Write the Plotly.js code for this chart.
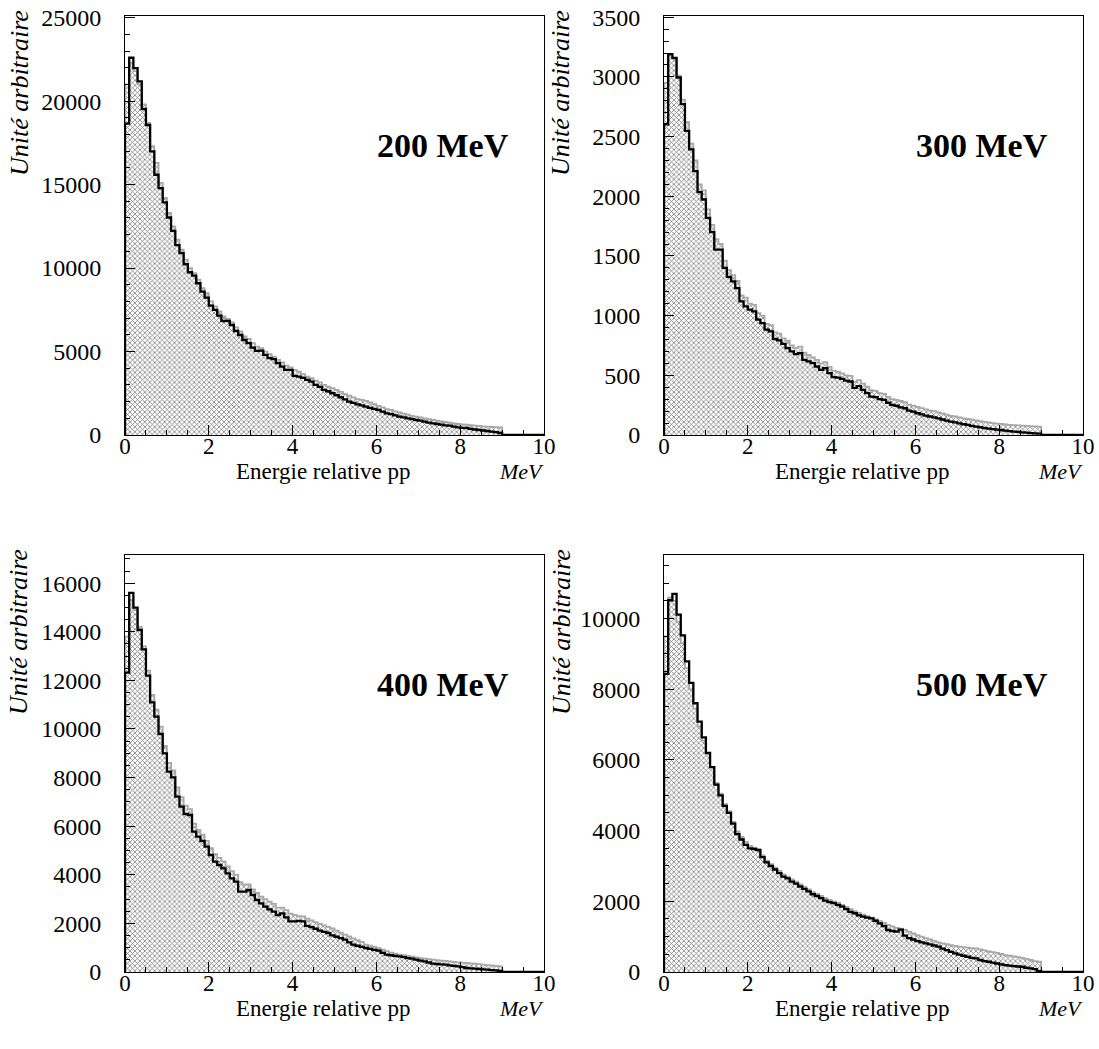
<!DOCTYPE html>
<html>
<head>
<meta charset="utf-8">
<script src="https://cdn.plot.ly/plotly-3.0.1.min.js"></script>
<style>html,body{margin:0;padding:0;background:#fff}#chart{width:1099px;height:1049px}</style>
</head>
<body>
<div id="chart"></div>
<script>
// Histogram bins: 0.1 MeV wide, from 0 to 9 MeV (90 bins), axis 0..10 MeV
const binWidth = 0.1;
const panelLabels = ["200 MeV", "300 MeV", "400 MeV", "500 MeV"];
const xTitle = "Energie relative pp";
const xUnit = "MeV";
const yTitle = "Unité arbitraire";

// 200 MeV
const black200 = [18650,22600,21980,21180,19530,18570,16990,15590,14790,13930,
13030,12230,11370,10890,10230,9750,9550,9090,8590,8230,
7750,7490,7150,6830,6830,6590,6230,5990,5690,5500,
5230,5040,5050,4800,4600,4540,4300,4100,3900,3900,
3540,3500,3420,3300,3200,3000,2880,2700,2620,2500,
2380,2260,2140,2000,1920,1840,1780,1700,1620,1560,
1500,1400,1300,1250,1180,1100,1050,1000,950,900,
860,800,740,700,660,620,580,560,500,460,
430,420,370,330,300,270,240,200,170,120];
const gray200 = [21000,22300,21800,21000,19800,18700,17300,16300,15100,14200,
13300,12500,11700,11100,10500,10000,9700,9300,8800,8500,
8000,7700,7400,7100,6950,6750,6450,6200,5900,5750,
5500,5300,5200,5000,4850,4700,4500,4350,4150,4050,
3900,3800,3650,3500,3400,3250,3150,3000,2900,2800,
2700,2580,2450,2350,2250,2150,2100,2050,1950,1850,
1750,1650,1550,1500,1420,1350,1280,1220,1150,1100,
1050,1000,950,900,860,820,780,740,700,660,
640,620,590,560,540,520,500,480,470,450];

// 300 MeV
const black300 = [2603,3190,3160,2995,2771,2547,2393,2211,2035,1973,
1819,1699,1553,1553,1400,1324,1287,1231,1119,1077,
1050,1036,966,938,882,868,804,793,764,728,
700,678,686,630,616,602,574,546,560,518,
484,480,470,455,448,395,410,378,350,322,
318,300,294,270,252,245,232,224,205,195,
182,172,162,155,148,140,130,120,112,105,
98,90,84,76,70,65,58,53,50,45,
42,37,32,28,26,22,20,16,14,11];
const gray300 = [2950,3180,3150,3010,2810,2620,2440,2300,2100,2050,
1890,1760,1640,1600,1460,1380,1340,1290,1170,1150,
1100,1090,1020,1000,930,920,860,850,810,790,
750,730,740,690,670,650,630,600,610,570,
540,530,515,500,495,445,460,430,405,375,
370,350,345,320,300,295,285,275,255,245,
235,225,215,205,200,190,180,170,160,155,
148,140,134,128,122,116,110,105,100,96,
92,88,84,82,80,78,76,74,72,70];

// 400 MeV
const black400 = [12317,15600,14993,14074,13278,12195,11097,10508,9794,8998,
8244,8011,7215,6803,6502,6460,5775,5570,5390,5158,
4815,4540,4403,4266,4060,3855,3717,3306,3306,3374,
3169,2963,2826,2689,2579,2483,2346,2414,2250,2080,
2080,2100,2080,1900,1850,1780,1700,1650,1605,1510,
1450,1390,1330,1220,1124,1080,1030,988,950,910,
877,790,713,690,665,645,610,575,547,510,
470,440,390,341,330,315,300,270,250,234,
200,165,150,135,123,110,95,80,70,41];
const gray400 = [13800,15300,14900,14200,13400,12400,11400,10800,10100,9300,
8600,8300,7600,7200,6850,6700,6100,5850,5650,5400,
5100,4850,4700,4550,4350,4150,4000,3700,3600,3600,
3400,3250,3100,3000,2900,2800,2650,2650,2550,2400,
2350,2300,2290,2200,2120,2050,1980,1920,1860,1790,
1700,1620,1540,1460,1380,1310,1240,1124,1080,1030,
980,920,860,800,760,713,690,660,630,600,
570,550,530,506,490,470,455,440,420,400,
385,370,355,340,320,300,285,270,250,234];

// 500 MeV
const black500 = [8437,10520,10700,10114,9526,8788,8182,7605,7083,6639,
6200,5800,5300,5000,4700,4500,4200,3900,3750,3600,
3500,3480,3450,3250,3100,3000,2900,2800,2700,2650,
2560,2500,2420,2350,2280,2200,2150,2090,2020,1980,
1950,1900,1852,1780,1700,1662,1600,1568,1540,1520,
1450,1378,1300,1188,1160,1142,1200,1028,960,920,
875,840,810,780,750,716,660,620,570,526,
490,460,432,400,384,340,310,290,265,241,
215,193,180,165,155,148,120,100,80,23];
const gray500 = [9500,10600,10500,9900,9300,8600,8000,7450,6950,6550,
6150,5800,5350,5050,4750,4550,4250,3980,3820,3680,
3570,3520,3480,3300,3150,3050,2950,2860,2760,2700,
2620,2560,2480,2410,2340,2260,2210,2150,2090,2040,
2000,1960,1900,1840,1780,1720,1670,1620,1580,1540,
1490,1440,1390,1330,1290,1250,1230,1188,1140,1090,
1040,1000,960,920,880,838,810,790,760,740,
720,700,690,675,668,640,610,580,560,540,
510,480,460,440,420,400,370,340,310,290];

// y-axis settings per panel (range top, major step, minor step)
const yTop = [25100, 3510, 17160, 11800];
const yMajor = [5000, 500, 2000, 2000];
const yMinor = [1000, 100, 500, 500];

const blackSets = [black200, black300, black400, black500];
const graySets = [gray200, gray300, gray400, gray500];

// step path (hv) from bin contents
function steps(vals) {
  const xs = [0], ys = [0];
  for (let i = 0; i < vals.length; i++) { xs.push(+(i * binWidth).toFixed(2)); ys.push(vals[i]); }
  xs.push(+(vals.length * binWidth).toFixed(2)); ys.push(0);
  xs.push(10); ys.push(0);
  return {xs, ys};
}

const W = 1099, H = 1049;
const font = '"Liberation Serif", "Times New Roman", serif';
const xDom = [[125/W, 544/W], [664/W, 1083/W]];
const yDom = [[1-435/H, 1-16/H], [1-972/H, 1-555/H]];

const traces = [];
const layout = {
  width: W, height: H, margin: {l:0, r:0, t:0, b:0},
  paper_bgcolor: '#fff', plot_bgcolor: '#fff', showlegend: false,
  annotations: []
};

for (let p = 0; p < 4; p++) {
  const col = p % 2, row = Math.floor(p / 2);
  const n = p === 0 ? '' : String(p + 1);
  const xa = 'x' + n, ya = 'y' + n;
  const g = steps(graySets[p]);
  const b = steps(blackSets[p]);
  traces.push({
    type: 'scatter', mode: 'lines', x: g.xs, y: g.ys, xaxis: xa, yaxis: ya,
    line: {shape: 'hv', color: '#a8a8a8', width: 1.8},
    fill: 'tozeroy', fillcolor: 'rgba(255,255,255,0)',
    fillpattern: {shape: 'x', fgcolor: '#7a7a7a', bgcolor: '#ffffff', size: 3.5, solidity: 0.4, fillmode: 'replace'},
    hoverinfo: 'skip'
  });
  traces.push({
    type: 'scatter', mode: 'lines', x: b.xs, y: b.ys, xaxis: xa, yaxis: ya,
    line: {shape: 'hv', color: '#000', width: 2.3}, hoverinfo: 'skip'
  });
  layout['xaxis' + n] = {
    domain: xDom[col], anchor: ya, range: [0, 10], showgrid: false, zeroline: false,
    showline: true, mirror: true, linecolor: '#000', linewidth: 1,
    ticks: 'inside', ticklen: 10, tickwidth: 1, tickcolor: '#000', tick0: 0, dtick: 2,
    minor: {ticks: 'inside', ticklen: 5, tickwidth: 1, tickcolor: '#000', dtick: 0.5, showgrid: false},
    tickfont: {family: font, size: 23, color: '#000'}, ticklabelstandoff: -10
  };
  layout['yaxis' + n] = {
    domain: yDom[row], anchor: xa, range: [0, yTop[p]], showgrid: false, zeroline: false,
    showline: true, mirror: true, linecolor: '#000', linewidth: 1,
    ticks: 'inside', ticklen: 10, tickwidth: 1, tickcolor: '#000', tick0: 0, dtick: yMajor[p],
    minor: {ticks: 'inside', ticklen: 5, tickwidth: 1, tickcolor: '#000', dtick: yMinor[p], showgrid: false},
    tickfont: {family: font, size: 24, color: '#000'}, ticklabelstandoff: 18, tickformat: 'd'
  };
  const cx = col === 0 ? 125 : 664;
  const topY = row === 0 ? 16 : 555;
  const botY = row === 0 ? 435 : 972;
  // y title (top aligned, rotated)
  const ytx = [20, 561, 18, 561][p];
  layout.annotations.push({
    xref: 'paper', yref: 'paper', x: ytx / W, y: 1 - (topY - 8) / H,
    xanchor: 'center', yanchor: 'top', textangle: -90, showarrow: false,
    text: '<i>' + yTitle + '</i>', font: {family: font, size: 26, color: '#000'}
  });
  // x title
  layout.annotations.push({
    xref: 'paper', yref: 'paper', x: (cx + 198) / W, y: 1 - (botY + 36) / H,
    xanchor: 'center', yanchor: 'middle', showarrow: false,
    text: xTitle, font: {family: font, size: 23, color: '#000'}
  });
  layout.annotations.push({
    xref: 'paper', yref: 'paper', x: (cx + 396) / W, y: 1 - (botY + 36) / H,
    xanchor: 'center', yanchor: 'middle', showarrow: false,
    text: '<i>' + xUnit + '</i>', font: {family: font, size: 22, color: '#000'}
  });
  // panel label
  layout.annotations.push({
    xref: 'paper', yref: 'paper', x: (cx + 318) / W, y: 1 - (topY + 129) / H,
    xanchor: 'center', yanchor: 'middle', showarrow: false,
    text: '<b>' + panelLabels[p] + '</b>', font: {family: font, size: 34, color: '#000'}
  });
}

Plotly.newPlot('chart', traces, layout, {staticPlot: true, displayModeBar: false});
</script>
</body>
</html>
